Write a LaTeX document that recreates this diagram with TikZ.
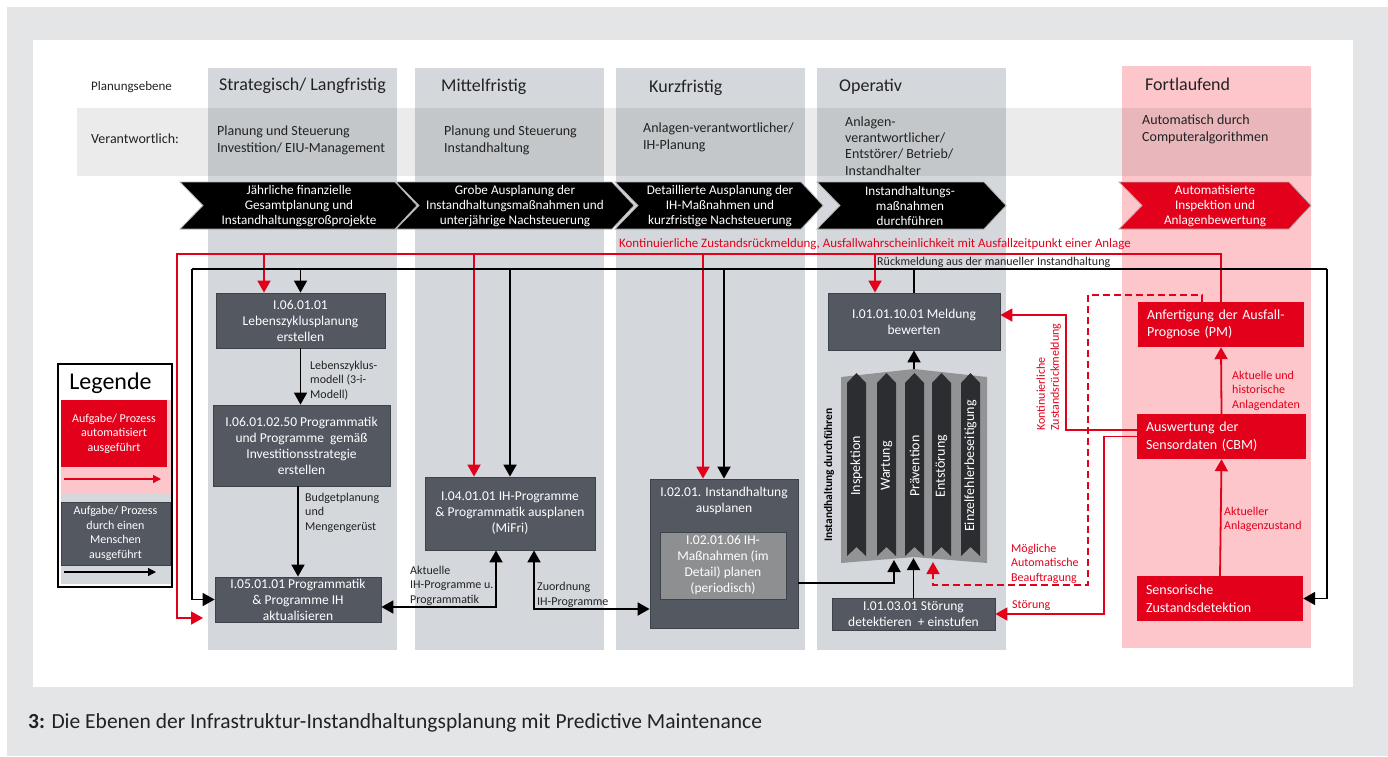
\documentclass[tikz,border=0pt]{standalone}
\usepackage{fontspec}
\setmainfont{Carlito}
\usetikzlibrary{arrows.meta}
\definecolor{bgout}{HTML}{E4E5E7}
\definecolor{colgray}{HTML}{D4D8DC}
\definecolor{pinkc}{HTML}{FCC6CB}
\definecolor{rd}{HTML}{E3001B}
\definecolor{boxf}{HTML}{535861}
\definecolor{boxd}{HTML}{3E4249}
\definecolor{innerf}{HTML}{8E8F91}
\definecolor{ihbg}{HTML}{929395}
\definecolor{ribbonc}{HTML}{2B2D31}
\definecolor{txt}{HTML}{222222}
\begin{document}
\begin{tikzpicture}[x=1pt,y=-1pt,
  box/.style={draw=boxd, line width=0.8pt, fill=boxf, text=white, align=center, inner sep=0pt, font=\fontsize{13.5}{16}\selectfont},
  inbox/.style={draw=boxd, line width=0.8pt, fill=innerf, text=white, align=center, inner sep=0pt, font=\fontsize{13.5}{16}\selectfont},
  redbox/.style={fill=rd, text=white, align=left, inner xsep=9pt, inner ysep=0pt, font=\fontsize{14}{17.5}\selectfont},
  hdr/.style={anchor=west, inner sep=0pt, text=txt, font=\fontsize{18}{20}\selectfont},
  resp/.style={anchor=west, inner sep=0pt, text=txt, align=left, font=\fontsize{14}{17}\selectfont},
  chevtxt/.style={text=white, align=center, inner sep=0pt, font=\fontsize{13.2}{15}\selectfont},
  lbl/.style={anchor=west, inner sep=0pt, text=txt, align=left, font=\fontsize{12}{14.5}\selectfont},
  rlbl/.style={lbl, text=rd},
  ln/.style={line width=1.8pt, draw=black},
  rln/.style={line width=1.8pt, draw=rd},
  tip/.style={-{Triangle[length=12pt,width=13pt]}},
  both/.style={{Triangle[length=12pt,width=13pt]}-{Triangle[length=12pt,width=13pt]}},
  ribtxt/.style={rotate=90, text=white, inner sep=0pt, font=\fontsize{14}{16}\selectfont}
]
\useasboundingbox (0,0) rectangle (1388,756);
\fill[white] (0,0) rectangle (1388,756);
\fill[bgout] (7,7) rectangle (1388,756);
\fill[white] (33,40) rectangle (1353,687);

% columns
\fill[colgray] (208,68) rectangle (397,650);
\fill[colgray] (415,68) rectangle (604,650);
\fill[colgray] (616,68) rectangle (805,650);
\fill[colgray] (817,68) rectangle (1006,650);
\fill[pinkc] (1122,66) rectangle (1311,648);
% responsibility band
\fill[black, opacity=0.08] (77,108) rectangle (1312,176);

% headers
\node[anchor=west, inner sep=0pt, text=txt, font=\fontsize{13}{15}\selectfont] (hplan) at (91,87) {Planungsebene};
\node[hdr] (h1) at (219,86) {Strategisch/ Langfristig};
\node[hdr] (h2) at (441,87) {Mittelfristig};
\node[hdr] (h3) at (649,88) {Kurzfristig};
\node[hdr] (h4) at (839,87) {Operativ};
\node[hdr] (h5) at (1145,84) {Fortlaufend};
\node[anchor=west, inner sep=0pt, text=txt, font=\fontsize{14}{17}\selectfont] (hverant) at (91,139) {Verantwortlich:};
\node[resp] (v1) at (217,140) {Planung und Steuerung\\Investition/ EIU-Management};
\node[resp] (v2) at (444,140) {Planung und Steuerung\\Instandhaltung};
\node[resp] (v3) at (643,137.5) {Anlagen-verantwortlicher/\\IH-Planung};
\node[resp, font=\fontsize{14}{16.3}\selectfont] (v4) at (845,146) {Anlagen-\\verantwortlicher/\\Entstörer/ Betrieb/\\Instandhalter};
\node[resp] (v5) at (1142,129) {Automatisch durch\\Computeralgorithmen};

% chevrons
\foreach \L/\T/\c in {180/417/black, 396/634/black, 615/823/black, 817/1006/black, 1119/1311/rd}
  \draw[fill=\c, draw=gray!60, line width=0.8pt] (\L,182) -- (\T-22,182) -- (\T,205.5) -- (\T-22,229) -- (\L,229) -- (\L+23,205.5) -- cycle;
\node[chevtxt] (c1) at (299,206) {Jährliche finanzielle\\Gesamtplanung und\\Instandhaltungsgroßprojekte};
\node[chevtxt] (c2) at (515,206) {Grobe Ausplanung der\\Instandhaltungsmaßnahmen und\\unterjährige Nachsteuerung};
\node[chevtxt] (c3) at (720,206) {Detaillierte Ausplanung der\\IH-Maßnahmen und\\kurzfristige Nachsteuerung};
\node[chevtxt] (c4) at (910,206) {Instandhaltungs-\\maßnahmen\\durchführen};
\node[chevtxt] (c5) at (1215,206) {Automatisierte\\Inspektion und\\Anlagenbewertung};

% bus labels
\node[rlbl, font=\fontsize{12.9}{15}\selectfont] (rlab) at (619,244) {Kontinuierliche Zustandsrückmeldung, Ausfallwahrscheinlichkeit mit Ausfallzeitpunkt einer Anlage};
\node[lbl] (blab) at (877,262) {Rückmeldung aus der manueller Instandhaltung};

% nodes
\node[box, minimum width=169pt, minimum height=55pt] (n1) at (300.5,320.5) {I.06.01.01\\Lebenszyklusplanung\\erstellen};
\node[box, minimum width=177pt, minimum height=81pt] (n2) at (301.5,445.5) {I.06.01.02.50 Programmatik\\und Programme\ \ gemäß\\Investitionsstrategie\\erstellen};
\node[box, minimum width=166pt, minimum height=45pt] (n5) at (298,599.5) {I.05.01.01 Programmatik\\\& Programme IH\\aktualisieren};
\node[box, minimum width=170pt, minimum height=73pt] (n4) at (510,513.5) {I.04.01.01 IH-Programme\\\& Programmatik ausplanen\\(MiFri)};
\node[box, minimum width=148pt, minimum height=149pt] (n3) at (724,553.5) {};
\node[text=white, align=center, inner sep=0pt, font=\fontsize{13.5}{16}\selectfont] (n3t) at (724,501) {I.02.01. Instandhaltung\\ausplanen};
\node[inbox, minimum width=126pt, minimum height=67pt] (n3i) at (723,565.5) {I.02.01.06 IH-\\Maßnahmen (im\\Detail) planen\\(periodisch)};
\node[box, minimum width=172pt, minimum height=57pt] (mel) at (914,321.5) {I.01.01.10.01 Meldung\\bewerten};
\node[box, minimum width=163pt, minimum height=32pt] (n11) at (913.5,614) {I.01.03.01 Störung\\detektieren\ \ + einstufen};
\node[redbox, minimum width=166pt, minimum height=45pt, text width=148pt] (pm) at (1221,324.5) {Anfertigung der Ausfall-\\Prognose (PM)};
\node[redbox, minimum width=169pt, minimum height=45pt, text width=151pt] (cbm) at (1221.5,436.5) {Auswertung der\\Sensordaten (CBM)};
\node[redbox, minimum width=166pt, minimum height=45pt, text width=148pt] (sens) at (1220,598.5) {Sensorische\\Zustandsdetektion};

% Instandhaltung graphic
\fill[ihbg] (841,377) -- (914,369) -- (987,377) -- (987,563) -- (914,557) -- (841,563) -- cycle;
\foreach \L in {847,877,905,932,961}
  \fill[ribbonc] (\L,383) -- (\L+9.5,373) -- (\L+19,383) -- (\L+19,556) -- (\L+9.5,547) -- (\L,556) -- cycle;
\node[ribtxt] (r1) at (856.5,466) {Inspektion};
\node[ribtxt] (r2) at (886.5,466) {Wartung};
\node[ribtxt] (r3) at (914.5,466) {Prävention};
\node[ribtxt] (r4) at (941.5,466) {Entstörung};
\node[ribtxt] (r5) at (970.5,466) {Einzelfehlerbeseitigung};
\node[rotate=90, inner sep=0pt, text=black, font=\bfseries\fontsize{11.5}{13}\selectfont] (ihlab) at (829,475) {Instandhaltung durchführen};
\coordinate (ihtop) at (914,369);
\coordinate (ihin1) at (894,560);
\coordinate (ihin2) at (913.5,558);
\coordinate (ihin3) at (933,562);

% buses
\coordinate (bL) at (192,269);
\coordinate (bR) at (1327,269);
\coordinate (rL) at (177,254);
\coordinate (redend) at (203,618);

% red bus
\draw[rln, tip] (pm.north) |- (rL) |- (redend);
\draw[rln, tip] (rL -| 264,0) -- (n1.north -| 264,0);
\draw[rln, tip] (rL -| 474,0) -- (n4.north -| 474,0);
\draw[rln, tip] (rL -| 703,0) -- (n3.north -| 703,0);
\draw[rln, tip] (rL -| 875,0) -- (mel.north -| 875,0);

% black bus
\draw[ln] (mel.north) -- (mel.north |- bL);
\draw[ln] (bL) -- (bR);
\draw[ln, tip] (bR) |- (sens.east);
\draw[ln, tip] (bL) |- (n5.west);
\draw[ln, tip] (bL -| n1.north) -- (n1.north);
\draw[ln, tip] (bL -| n4.north) -- (n4.north);
\draw[ln, tip] (bL -| n3.north) -- (n3.north);

% left column flow
\draw[ln, tip] (n1.south) -- (n1.south |- n2.north);
\draw[ln, tip] (n5.north |- n2.south) -- (n5.north);
\draw[ln, both] (n5.east |- 0,607) -| (n4.south -| 496,0);
\draw[ln, both] (n4.south -| 534,0) |- (n3.west |- 0,609);
\draw[ln, tip] (n3.east |- 0,583) -| (ihin1);
\draw[ln, tip] (n11.north) -- (ihin2);
\draw[ln, tip] (ihtop) -- (mel.south);

% right column flow
\draw[rln, tip] (sens.north) -- (cbm.south);
\draw[rln, tip] (cbm.north) -- (pm.south);
\draw[rln, tip] ([yshift=6.5pt]cbm.west) -| (1066,315) -- (mel.east |- 0,315);
\draw[rln, tip] (cbm.west) -| (1104,614) -- (n11.east);
\draw[line width=1.6pt, draw=rd, dash pattern=on 7pt off 4pt, tip] ([xshift=-19pt]pm.north) |- (1088,295) |- (ihin3 |- 0,585) -- (ihin3);

% labels
\node[lbl] (l1) at (310,380.5) {Lebenszyklus-\\modell (3-i-\\Modell)};
\node[lbl] (l2) at (305,512.5) {Budgetplanung\\und\\Mengengerüst};
\node[lbl] (l3) at (410,585.5) {Aktuelle\\IH-Programme u.\\Programmatik};
\node[lbl] (l4) at (537,595) {Zuordnung\\IH-Programme};
\node[rlbl] (l5) at (1232,390.5) {Aktuelle und\\historische\\Anlagendaten};
\node[rlbl] (l6) at (1224,519.5) {Aktueller\\Anlagenzustand};
\node[rlbl] (l7) at (1011,563.5) {Mögliche\\Automatische\\Beauftragung};
\node[rlbl] (l8) at (1012,606) {Störung};
\node[rotate=90, anchor=south west, inner sep=0pt, text=rd, align=left, font=\fontsize{12}{14}\selectfont] (l9) at (1061,431) {Kontinuierliche\\Zustandsrückmeldung};

% legend
\node[draw=black, line width=1.5pt, fill=white, minimum width=114pt, minimum height=223pt, inner sep=0pt] (leg) at (115,475.5) {};
\node[inner sep=0pt, text=black, font=\fontsize{24}{26}\selectfont] (legt) at (110.5,383) {Legende};
\fill[pinkc] (61,400) rectangle (171,494);
\node[fill=rd, minimum width=106pt, minimum height=67pt, inner sep=0pt, text=white, align=center, font=\fontsize{12}{14.5}\selectfont] (legr) at (114,433.5) {Aufgabe/ Prozess\\automatisiert\\ausgeführt};
\coordinate (legra) at (64,479);
\coordinate (legrb) at (161,479);
\draw[line width=1.2pt, draw=rd, -{Triangle[length=8pt,width=8pt]}] (legra) -- (legrb);
\fill[colgray] (61,494) rectangle (171,584);
\node[box, minimum width=109pt, minimum height=63pt, font=\fontsize{12}{14.7}\selectfont] (legb) at (115.5,533.5) {Aufgabe/ Prozess\\durch einen\\Menschen\\ausgeführt};
\coordinate (legba) at (64,572);
\coordinate (legbb) at (156,572);
\draw[line width=1.2pt, draw=black, -{Triangle[length=8pt,width=8pt]}] (legba) -- (legbb);

% caption
\node[anchor=west, inner sep=0pt, text=txt, font=\fontsize{21.5}{25}\selectfont] (cap) at (28,723) {\textbf{3:} Die Ebenen der Infrastruktur-Instandhaltungsplanung mit Predictive Maintenance};
\end{tikzpicture}
\end{document}
